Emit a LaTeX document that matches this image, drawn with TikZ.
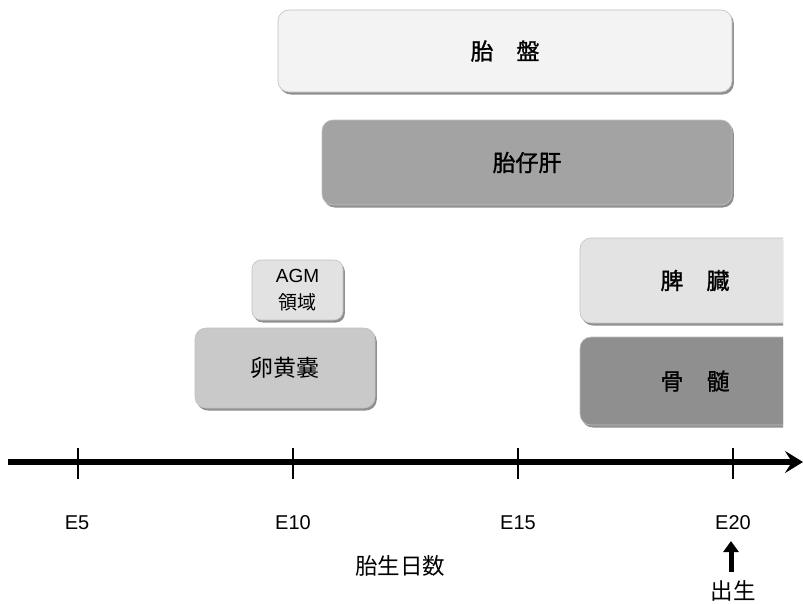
\documentclass[tikz,border=0pt]{standalone}
\usepackage{fontspec}
\setmainfont{Liberation Sans}
\newfontfamily\jp{Noto Sans CJK JP}
\newfontfamily\jpb[FakeBold=1.2]{Noto Sans CJK JP}
\usetikzlibrary{shadows,arrows.meta}
\definecolor{cPlac}{HTML}{F3F3F3}
\definecolor{cLiver}{HTML}{A3A3A3}
\definecolor{cAGM}{HTML}{E2E2E2}
\definecolor{cYolk}{HTML}{C9C9C9}
\definecolor{cSpleen}{HTML}{E3E3E3}
\definecolor{cBM}{HTML}{8F8F8F}
\tikzset{
  organ/.style={rectangle, rounded corners=11pt, draw=black!25, line width=0.6pt,
    inner sep=0pt, align=center, text=black,
    drop shadow={shadow xshift=1.8pt, shadow yshift=-2.5pt, fill=black!55, opacity=0.8}},
  tickline/.style={line width=1.2pt, black},
  axlabel/.style={font=\fontsize{20}{22}\selectfont, inner sep=0pt},
  jplabel/.style={font=\fontsize{22.5}{25}\selectfont\jp, inner sep=0pt}
}
\begin{document}
\begin{tikzpicture}[x=1pt,y=-1pt]
\useasboundingbox (0,0) rectangle (803,603);
% organ boxes
\node[organ, fill=cPlac, minimum width=454pt, minimum height=82pt,
      font=\fontsize{23}{26}\selectfont\jpb] (plac) at (505,51) {胎\hspace{1em}盤};
\node[organ, fill=cLiver, minimum width=410pt, minimum height=85pt,
      font=\fontsize{23}{26}\selectfont\jpb] (liver) at (527,162.5) {胎仔肝};
\node[organ, fill=cAGM, minimum width=91pt, minimum height=60pt, rounded corners=9pt,
      font=\fontsize{19}{27}\selectfont] (agm) at (297.5,290) {AGM\\{\jp 領域}};
\node[organ, fill=cYolk, minimum width=180pt, minimum height=80pt,
      font=\fontsize{23}{26}\selectfont\jp] (yolk) at (285,368) {卵黄嚢};
\begin{scope}
\clip (0,0) rectangle (783,603);
\node[organ, fill=cSpleen, minimum width=230pt, minimum height=85pt,
      font=\fontsize{23}{26}\selectfont\jpb] (spleen) at (695,280.5) {脾\hspace{1em}臓};
\node[organ, fill=cBM, minimum width=230pt, minimum height=88pt,
      font=\fontsize{23}{26}\selectfont\jpb] (bm) at (695,381) {骨\hspace{1em}髄};
\end{scope}
% axis
\coordinate (axs) at (8,462);
\coordinate (axe) at (803,462);
\draw[line width=6pt, -{Stealth[length=18pt,width=22pt,inset=7pt]}] (axs) -- (axe);
\coordinate (t5) at (78,462);
\coordinate (t10) at (293,462);
\coordinate (t15) at (518,462);
\coordinate (t20) at (733,462);
\foreach \t in {t5,t10,t15,t20}{
  \draw[tickline] ([yshift=14pt]\t) -- ([yshift=-17pt]\t);
}
\node[axlabel] (l5) at (77,523) {E5};
\node[axlabel] (l10) at (293,523) {E10};
\node[axlabel] (l15) at (518,523) {E15};
\node[axlabel] (l20) at (733,523) {E20};
\node[jplabel] (days) at (400,566) {胎生日数};
\node[jplabel] (birth) at (733,591) {出生};
\coordinate (bs) at (731,572);
\coordinate (be) at (731,541);
\draw[line width=5pt, -{Triangle[length=11pt,width=15pt]}] (bs) -- (be);
\end{tikzpicture}
\end{document}
